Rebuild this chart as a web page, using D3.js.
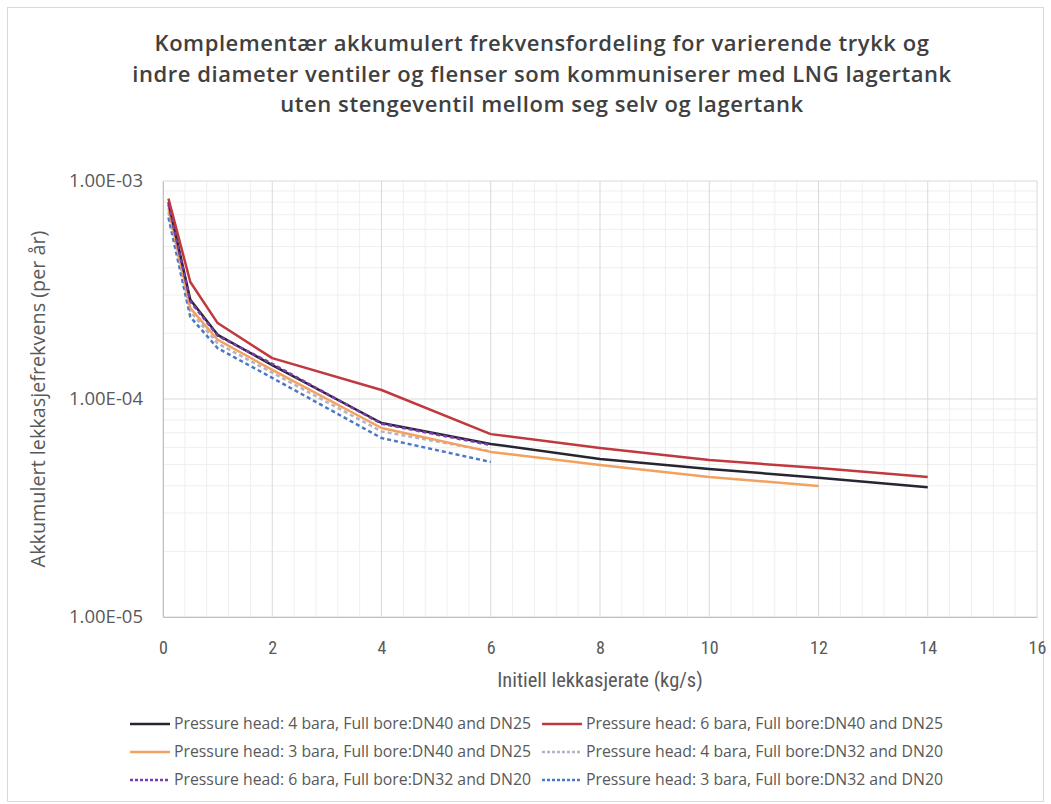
<!DOCTYPE html>
<html><head><meta charset="utf-8">
<script src="https://cdn.jsdelivr.net/npm/d3@7"></script>
<style>
body{margin:0;background:#fff;}
svg{display:block;}
</style></head>
<body>
<svg id="chart" width="1051" height="804"></svg>
<script>
const titleLines = [
  "Komplementær akkumulert frekvensfordeling for varierende trykk og",
  "indre diameter ventiler og flenser som kommuniserer med LNG lagertank",
  "uten stengeventil mellom seg selv og lagertank"
];
const xTitle = "Initiell lekkasjerate (kg/s)";
const yTitle = "Akkumulert lekkasjefrekvens (per år)";
const xTicks = [0, 2, 4, 6, 8, 10, 12, 14, 16];
const yTicks = [1e-5, 1e-4, 1e-3];

const seriesNames = [
  "Pressure head: 4 bara, Full bore:DN40 and DN25",
  "Pressure head: 6 bara, Full bore:DN40 and DN25",
  "Pressure head: 3 bara, Full bore:DN40 and DN25",
  "Pressure head: 4 bara, Full bore:DN32 and DN20",
  "Pressure head: 6 bara, Full bore:DN32 and DN20",
  "Pressure head: 3 bara, Full bore:DN32 and DN20"
];
const xLong = [0.1, 0.5, 1, 2, 4, 6, 8, 10, 12, 14];
const xMid = [0.1, 0.5, 1, 2, 4, 6, 8, 10, 12];
const xShort = [0.1, 0.5, 1, 2, 4, 6];

const black4_DN40 = [8.0e-4, 2.85e-4, 1.97e-4, 1.43e-4, 7.76e-5, 6.22e-5, 5.31e-5, 4.78e-5, 4.35e-5, 3.94e-5];
const red6_DN40 = [8.3e-4, 3.44e-4, 2.23e-4, 1.54e-4, 1.10e-4, 6.9e-5, 5.96e-5, 5.25e-5, 4.82e-5, 4.39e-5];
const orange3_DN40 = [7.5e-4, 2.61e-4, 1.87e-4, 1.36e-4, 7.36e-5, 5.72e-5, 4.98e-5, 4.39e-5, 3.99e-5];
const grey4_DN32 = [7.2e-4, 2.52e-4, 1.80e-4, 1.32e-4, 7.1e-5, 5.75e-5];
const purple6_DN32 = [7.8e-4, 2.80e-4, 1.95e-4, 1.45e-4, 7.7e-5, 6.15e-5];
const blue3_DN32 = [6.8e-4, 2.38e-4, 1.71e-4, 1.25e-4, 6.62e-5, 5.14e-5];

const styles = [
  {color:"#262633", dash:null},
  {color:"#c0393f", dash:null},
  {color:"#f2a15f", dash:null},
  {color:"#b4b4c4", dash:"4,3"},
  {color:"#7a3cb0", dash:"4,3"},
  {color:"#4a78c8", dash:"4,3"}
];
const seriesX = [xLong, xLong, xMid, xShort, xShort, xShort];
const seriesY = [black4_DN40, red6_DN40, orange3_DN40, grey4_DN32, purple6_DN32, blue3_DN32];

const svg = d3.select("#chart");
const W = 1051, H = 804;
svg.append("rect").attr("x",7.5).attr("y",7.5).attr("width",W-15).attr("height",H-10)
  .attr("fill","#fff").attr("stroke","#d9d9d9");

const L = 163, R = 1037, T = 181, B = 617;
const x = d3.scaleLinear().domain([0,16]).range([L,R]);
const y = d3.scaleLog().domain([1e-5,1e-3]).range([B,T]);

// title
titleLines.forEach((t,i)=>{
  svg.append("text").attr("text-anchor","middle")
    .attr("font-family","'Open Sans', sans-serif").attr("font-weight",600)
    .attr("font-size",22).attr("letter-spacing",0.55).attr("fill","#404040")
    .attr("x",542).attr("y",51+i*30.5).text(t);
});

// grid
const g = svg.append("g");
const minorX = d3.range(0,16.001,0.4).filter(v=>Math.abs(v/2-Math.round(v/2))>1e-6);
g.selectAll(".mx").data(minorX).enter().append("line")
  .attr("x1",d=>x(d)).attr("x2",d=>x(d)).attr("y1",T).attr("y2",B)
  .attr("stroke","#efefef").attr("stroke-width",1);
const minorY = [];
[1e-5,1e-4].forEach(d=>{for(let k=2;k<10;k++) minorY.push(d*k);});
g.selectAll(".my").data(minorY).enter().append("line")
  .attr("x1",L).attr("x2",R).attr("y1",d=>y(d)).attr("y2",d=>y(d))
  .attr("stroke","#efefef").attr("stroke-width",1);
g.selectAll(".gx").data(xTicks).enter().append("line")
  .attr("x1",d=>x(d)).attr("x2",d=>x(d)).attr("y1",T).attr("y2",B)
  .attr("stroke","#d9d9d9").attr("stroke-width",1);
g.selectAll(".gy").data(yTicks).enter().append("line")
  .attr("x1",L).attr("x2",R).attr("y1",d=>y(d)).attr("y2",d=>y(d))
  .attr("stroke","#d9d9d9").attr("stroke-width",1);

// axes
const xAxis = d3.axisBottom(x).tickValues(xTicks).tickSize(0).tickPadding(24).tickFormat(d3.format("d"));
const xa = svg.append("g").attr("transform",`translate(0,${B})`).call(xAxis);
xa.select(".domain").attr("stroke","#bfbfbf");
xa.selectAll("text").attr("font-family","'Liberation Sans Narrow','Roboto Condensed','Open Sans',sans-serif")
  .attr("font-size",18).attr("fill","#595959");
const yAxis = d3.axisLeft(y).tickValues(yTicks).tickSize(0).tickPadding(20)
  .tickFormat(d=>"1.00E-0"+Math.round(-Math.log10(d)));
const ya = svg.append("g").attr("transform",`translate(${L},0)`).call(yAxis);
ya.select(".domain").attr("stroke","#bfbfbf");
ya.selectAll("text").attr("font-family","'Open Sans',sans-serif")
  .attr("font-size",18.5).attr("fill","#595959");

// axis titles
svg.append("text").attr("x",600).attr("y",687).attr("text-anchor","middle")
  .attr("font-family","'Liberation Sans Narrow','Roboto Condensed','Open Sans',sans-serif")
  .attr("font-size",20.5).attr("fill","#595959").text(xTitle);
svg.append("text").attr("transform","translate(45,399) rotate(-90)").attr("text-anchor","middle")
  .attr("font-family","'Open Sans',sans-serif").attr("font-size",19.8).attr("fill","#595959").text(yTitle);

// lines
const line = d3.line().x(d=>x(d[0])).y(d=>y(d[1]));
const drawOrder = [3,5,2,0,4,1];
drawOrder.forEach(i=>{
  const pts = seriesX[i].map((v,j)=>[v, seriesY[i][j]]);
  svg.append("path").datum(pts).attr("d",line).attr("fill","none")
    .attr("stroke",styles[i].color).attr("stroke-width",2.5)
    .attr("stroke-dasharray",styles[i].dash).attr("stroke-linejoin","round");
});

// legend
const legPos = [[130,724],[542,724],[130,752],[542,752],[130,780],[542,780]];
seriesNames.forEach((n,i)=>{
  const [lx,ly] = legPos[i];
  svg.append("line").attr("x1",lx).attr("x2",lx+40).attr("y1",ly).attr("y2",ly)
    .attr("stroke",styles[i].color).attr("stroke-width",2.5)
    .attr("stroke-dasharray",styles[i].dash ? "3,2" : null);
  svg.append("text").attr("x",lx+44).attr("y",ly+5)
    .attr("font-family","'Open Sans',sans-serif").attr("font-size",15.8)
    .attr("fill","#595959").text(n);
});
</script>
</body></html>
